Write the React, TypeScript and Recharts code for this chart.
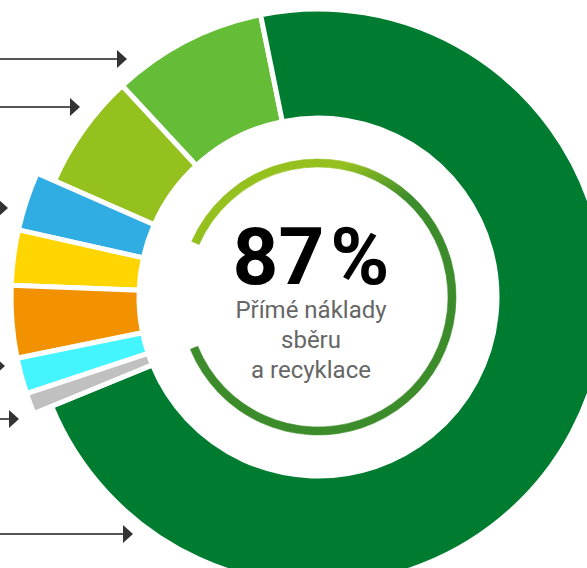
import { PieChart, Pie, Cell } from "recharts";

// shares of the total (%), in order counter-clockwise from the top
const categories = [
  "svozová technika",
  "třídicí linky",
  "sběrné nádoby",
  "komunikace",
  "administrativa",
  "vzdělávání",
  "výzkum",
  "ostatní",
  "sběr a recyklace",
];
const shares = [8.7, 6.5, 3.1, 2.9, 3.8, 1.9, 1.1, 0, 72];
const direct = [true, true, false, false, false, false, false, false, true];
const colors = [
  "#64BC37",
  "#95C11F",
  "#30ADE3",
  "#FFD500",
  "#F39200",
  "#44F4FF",
  "#C0C0C0",
  "#C0C0C0",
  "#007C30",
];
const headline = "87";
const subtitle = ["Přímé náklady", "sběru", "a recyklace"];

const data = categories
  .map((name, i) => ({ name, value: shares[i], direct: direct[i], color: colors[i] }))
  .filter((d) => d.value > 0);

// decorative pointer arrows to labels outside the crop
const arrows = [
  { y: 59, tip: 127 },
  { y: 107, tip: 80 },
  { y: 208, tip: 8 },
  { y: 366, tip: 5 },
  { y: 419, tip: 19 },
  { y: 534, tip: 133 },
];

const W = 587;
const H = 568;
const CX = 318;
const CY = 297;
const START = 101.5;

export default function App() {
  return (
    <div style={{ position: "fixed", left: 0, top: 0, width: W, height: H, overflow: "hidden", background: "#fff" }}>
      <PieChart width={W} height={H} margin={{ top: 0, right: 0, bottom: 0, left: 0 }}>
        <defs>
          <linearGradient id="ringGrad" gradientUnits="userSpaceOnUse" x1="278" y1="198" x2="304" y2="250">
            <stop offset="0" stopColor="#95C11F" />
            <stop offset="1" stopColor="#3D8C2C" />
          </linearGradient>
        </defs>
        <Pie
          data={data}
          dataKey="value"
          cx={CX}
          cy={CY}
          startAngle={START}
          endAngle={START + 360}
          innerRadius={179}
          outerRadius={288}
          stroke="none"
          isAnimationActive={false}
          legendType="none"
        >
          {data.map((d, i) => (
            <Cell key={i} fill={d.direct ? d.color : "none"} stroke={d.direct ? "#fff" : "none"} strokeWidth={5} />
          ))}
        </Pie>
        <Pie
          data={data}
          dataKey="value"
          cx={CX}
          cy={CY}
          startAngle={START}
          endAngle={START + 360}
          innerRadius={179}
          outerRadius={307}
          stroke="none"
          isAnimationActive={false}
          legendType="none"
        >
          {data.map((d, i) => (
            <Cell key={i} fill={d.direct ? "none" : d.color} stroke={d.direct ? "none" : "#fff"} strokeWidth={5} />
          ))}
        </Pie>
        <Pie
          data={data}
          dataKey="value"
          cx={CX}
          cy={CY}
          startAngle={START}
          endAngle={START + 360}
          innerRadius={130}
          outerRadius={138}
          stroke="none"
          isAnimationActive={false}
          legendType="none"
        >
          {data.map((d, i) => (
            <Cell key={i} fill={d.direct ? "url(#ringGrad)" : "none"} stroke={d.direct ? "url(#ringGrad)" : "none"} strokeWidth={0.6} />
          ))}
        </Pie>
      </PieChart>
      <svg width={W} height={H} style={{ position: "absolute", left: 0, top: 0, pointerEvents: "none" }}>
        {arrows.map((a, i) => (
          <g key={i}>
            <line x1={0} y1={a.y} x2={a.tip - 8} y2={a.y} stroke="#555" strokeWidth={2} />
            <polygon points={`${a.tip - 10},${a.y - 9} ${a.tip},${a.y} ${a.tip - 10},${a.y + 9}`} fill="#333" />
          </g>
        ))}
        <text x={311} y={284} textAnchor="middle" fontFamily="Roboto, sans-serif" fontWeight={700} fontSize={80} fill="#000">
          {headline}
          <tspan dx={6}>%</tspan>
        </text>
        {subtitle.map((s, i) => (
          <text key={i} x={311} y={318 + i * 30} textAnchor="middle" fontFamily="Roboto, sans-serif" fontSize={24} fill="#666">
            {s}
          </text>
        ))}
      </svg>
    </div>
  );
}
